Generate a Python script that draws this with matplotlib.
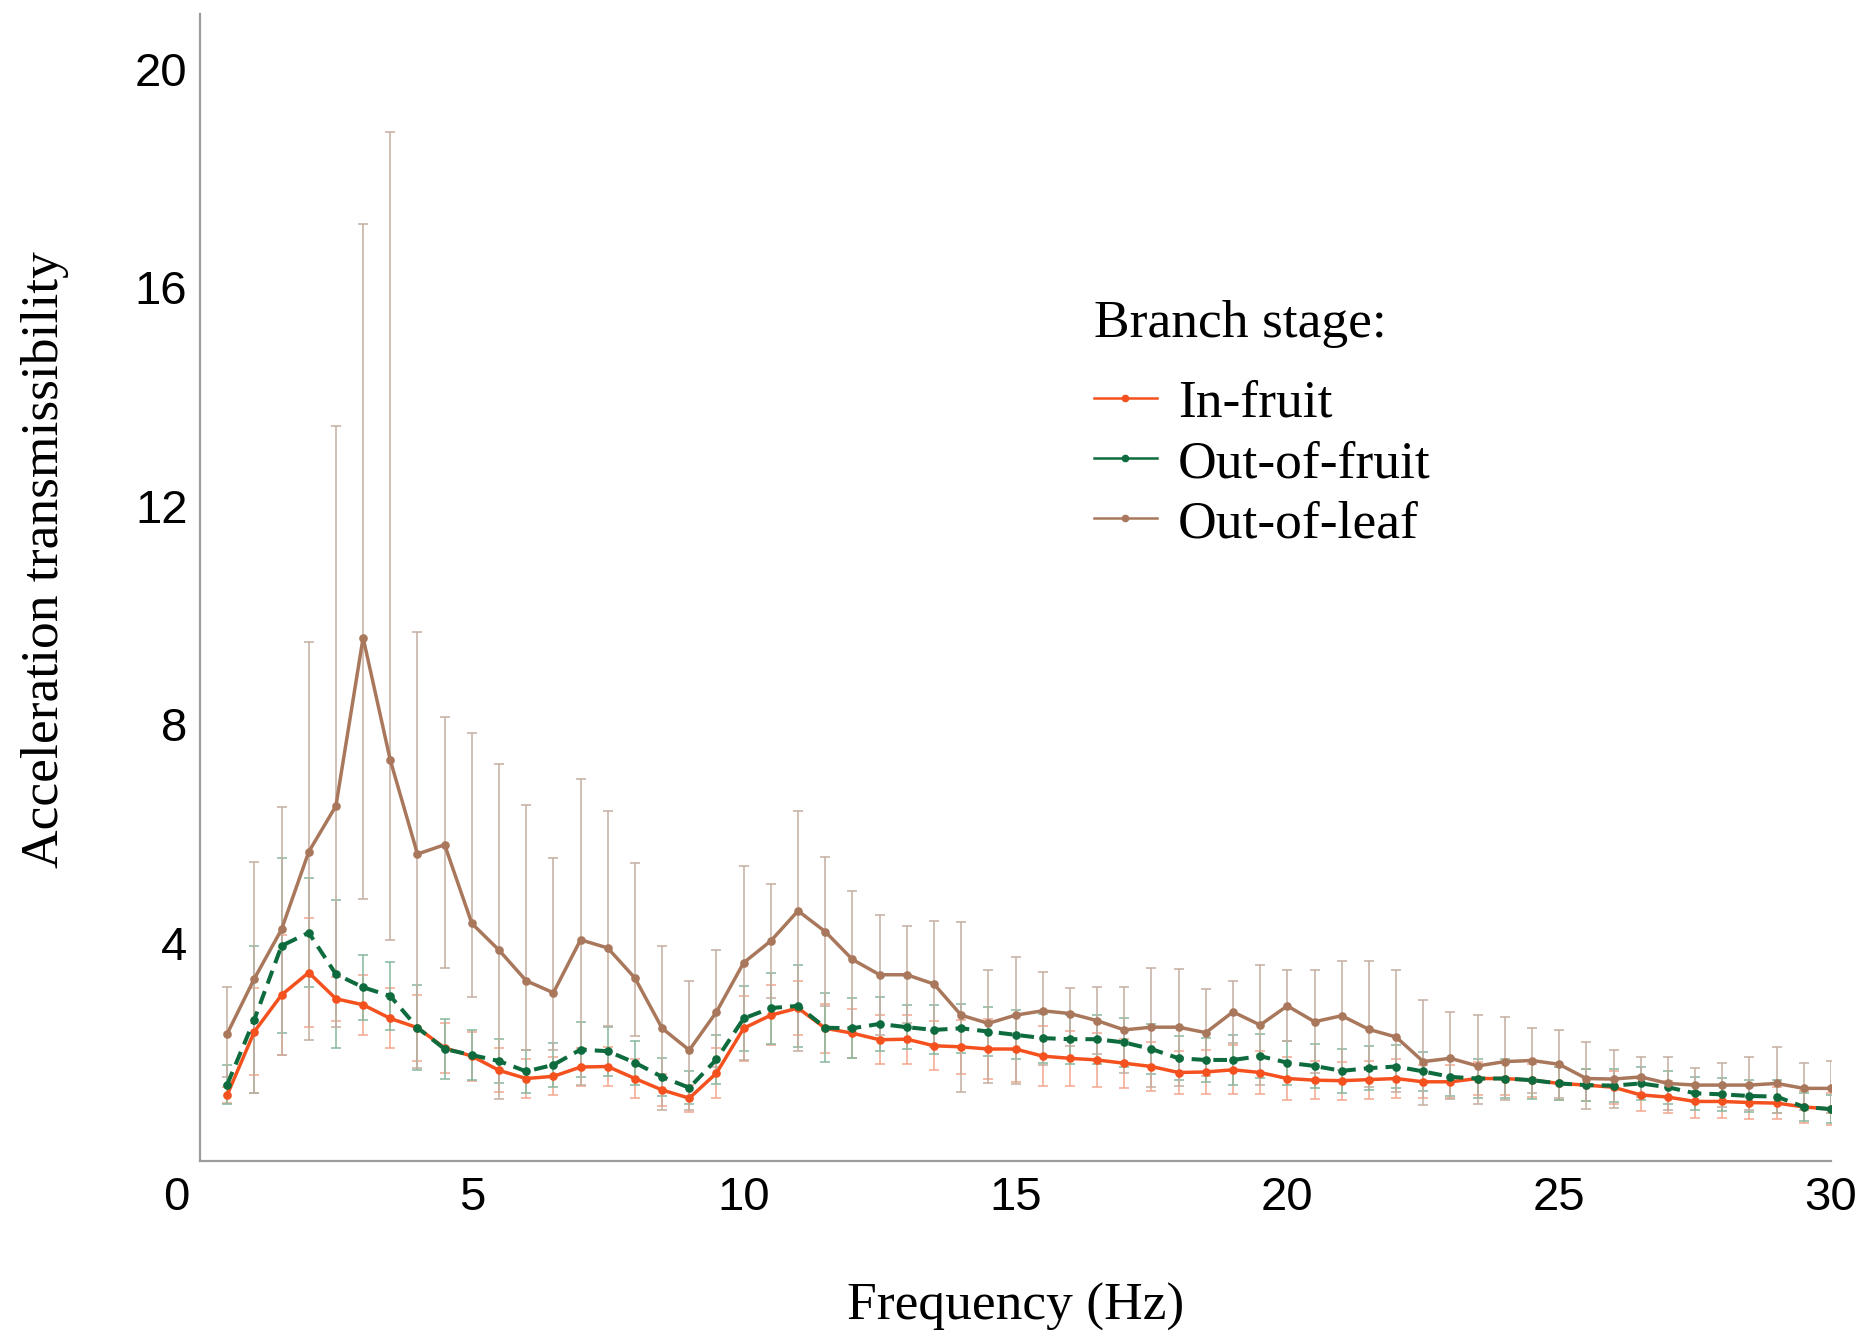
import matplotlib
matplotlib.use("Agg")
import matplotlib.pyplot as plt
from matplotlib.lines import Line2D
from matplotlib.transforms import ScaledTranslation
import numpy as np

# ---------------- data ----------------
freq = [0.5, 1.0, 1.5, 2.0, 2.5, 3.0, 3.5, 4.0, 4.5, 5.0,
        5.5, 6.0, 6.5, 7.0, 7.5, 8.0, 8.5, 9.0, 9.5, 10.0,
        10.5, 11.0, 11.5, 12.0, 12.5, 13.0, 13.5, 14.0, 14.5, 15.0,
        15.5, 16.0, 16.5, 17.0, 17.5, 18.0, 18.5, 19.0, 19.5, 20.0,
        20.5, 21.0, 21.5, 22.0, 22.5, 23.0, 23.5, 24.0, 24.5, 25.0,
        25.5, 26.0, 26.5, 27.0, 27.5, 28.0, 28.5, 29.0, 29.5, 30.0]

in_fruit = [1.21, 2.37, 3.04, 3.45, 2.97, 2.86, 2.61, 2.44, 2.07, 1.92,
            1.66, 1.51, 1.55, 1.72, 1.73, 1.51, 1.30, 1.15, 1.61, 2.43,
            2.67, 2.80, 2.43, 2.34, 2.22, 2.23, 2.11, 2.09, 2.05, 2.05,
            1.92, 1.88, 1.85, 1.79, 1.73, 1.62, 1.63, 1.67, 1.62, 1.51,
            1.48, 1.47, 1.49, 1.51, 1.45, 1.45, 1.51, 1.51, 1.48, 1.42,
            1.39, 1.35, 1.21, 1.17, 1.09, 1.09, 1.07, 1.06, 0.99, 0.95]
in_fruit_err = [0.15, 0.80, 1.10, 1.00, 0.40, 0.55, 0.55, 0.60, 0.45, 0.45,
                0.40, 0.35, 0.35, 0.35, 0.35, 0.35, 0.30, 0.25, 0.45, 0.60,
                0.55, 0.50, 0.45, 0.45, 0.45, 0.45, 0.45, 0.50, 0.55, 0.60,
                0.55, 0.50, 0.50, 0.45, 0.45, 0.40, 0.40, 0.45, 0.40, 0.40,
                0.35, 0.35, 0.35, 0.35, 0.30, 0.30, 0.30, 0.30, 0.30, 0.30,
                0.30, 0.30, 0.30, 0.30, 0.30, 0.30, 0.30, 0.30, 0.30, 0.30]

out_of_fruit = [1.40, 2.59, 3.94, 4.18, 3.42, 3.18, 3.02, 2.44, 2.05, 1.94,
                1.83, 1.64, 1.76, 2.04, 2.01, 1.80, 1.54, 1.34, 1.86, 2.61,
                2.80, 2.84, 2.44, 2.43, 2.51, 2.45, 2.40, 2.43, 2.37, 2.31,
                2.25, 2.23, 2.23, 2.17, 2.05, 1.88, 1.85, 1.85, 1.92, 1.80,
                1.74, 1.65, 1.70, 1.73, 1.64, 1.54, 1.51, 1.51, 1.48, 1.42,
                1.39, 1.38, 1.42, 1.35, 1.24, 1.22, 1.19, 1.18, 0.99, 0.95]
out_of_fruit_err = [0.36, 1.34, 1.60, 1.00, 1.36, 0.60, 0.63, 0.78, 0.55, 0.45,
                    0.40, 0.40, 0.40, 0.50, 0.45, 0.40, 0.35, 0.30, 0.45, 0.60,
                    0.65, 0.75, 0.63, 0.55, 0.50, 0.40, 0.45, 0.45, 0.45, 0.45,
                    0.45, 0.45, 0.45, 0.45, 0.45, 0.40, 0.40, 0.45, 0.40, 0.40,
                    0.40, 0.40, 0.40, 0.40, 0.35, 0.35, 0.35, 0.35, 0.35, 0.30,
                    0.30, 0.30, 0.30, 0.30, 0.30, 0.30, 0.30, 0.30, 0.25, 0.25]

out_of_leaf = [2.33, 3.34, 4.24, 5.66, 6.50, 9.58, 7.34, 5.62, 5.79, 4.35,
               3.86, 3.30, 3.08, 4.05, 3.90, 3.35, 2.43, 2.03, 2.73, 3.63,
               4.03, 4.58, 4.20, 3.69, 3.41, 3.41, 3.24, 2.67, 2.52, 2.67,
               2.75, 2.70, 2.57, 2.40, 2.45, 2.45, 2.35, 2.73, 2.49, 2.84,
               2.55, 2.66, 2.41, 2.27, 1.82, 1.88, 1.74, 1.82, 1.84, 1.77,
               1.51, 1.50, 1.54, 1.42, 1.39, 1.39, 1.39, 1.42, 1.33, 1.33]
out_of_leaf_err_up = [0.85, 2.13, 2.24, 3.85, 6.96, 7.57, 11.50, 4.07, 2.34, 3.48,
                      3.41, 3.22, 2.47, 2.95, 2.50, 2.10, 1.50, 1.27, 1.13, 1.78,
                      1.05, 1.83, 1.37, 1.25, 1.10, 0.89, 1.16, 1.71, 0.98, 1.07,
                      0.71, 0.46, 0.61, 0.78, 1.09, 1.07, 0.79, 0.57, 1.10, 0.65,
                      0.94, 1.00, 1.25, 1.22, 1.13, 0.85, 0.93, 0.81, 0.59, 0.62,
                      0.66, 0.53, 0.36, 0.48, 0.31, 0.40, 0.51, 0.67, 0.47, 0.50]
out_of_leaf_err_low = [0.80, 2.10, 2.30, 3.44, 4.04, 4.78, 3.29, 3.92, 2.26, 1.35,
                       2.73, 1.27, 1.05, 2.66, 1.43, 1.07, 1.50, 1.10, 1.00, 1.78,
                       1.05, 2.56, 1.37, 1.25, 1.10, 0.89, 1.16, 1.40, 1.09, 1.26,
                       1.00, 0.60, 0.61, 0.78, 1.09, 1.07, 0.79, 0.57, 1.10, 0.65,
                       0.94, 1.00, 1.05, 1.00, 0.80, 0.75, 0.70, 0.70, 0.59, 0.62,
                       0.55, 0.53, 0.36, 0.48, 0.31, 0.40, 0.45, 0.55, 0.40, 0.45]

labels = ["In-fruit", "Out-of-fruit", "Out-of-leaf"]
colors = ["#F4511E", "#0E6B3E", "#A9785C"]
ecolors = ["#F2A58E", "#86B89C", "#C4ADA0"]

xticks = [0, 5, 10, 15, 20, 25, 30]
yticks = [4, 8, 12, 16, 20]

# ---------------- figure ----------------
W, H = 1868, 1333
fig = plt.figure(figsize=(W / 100, H / 100), dpi=100)
ax = fig.add_axes([200 / W, 1 - 1161 / H, 1631 / W, 1147 / H])

sans = "Liberation Sans"
serif = "Liberation Serif"

series = [
    (in_fruit, [in_fruit_err, in_fruit_err]),
    (out_of_fruit, [out_of_fruit_err, out_of_fruit_err]),
    (out_of_leaf, [out_of_leaf_err_low, out_of_leaf_err_up]),
]

# error bars first (behind)
for (vals, err), ec in zip(series, ecolors):
    ax.errorbar(freq, vals, yerr=err, fmt="none", ecolor=ec,
                elinewidth=1.1, capsize=3.5, capthick=1.1, zorder=1)

styles = ["-", (0, (3.4, 2.0)), "-"]
widths = [2.5, 2.9, 2.5]
for (vals, _), c, ls, lw in zip(series, colors, styles, widths):
    ax.plot(freq, vals, color=c, linestyle=ls, linewidth=lw,
            marker="o", markersize=5.2, markerfacecolor=c,
            markeredgecolor=c, zorder=3)

ax.set_xlim(0, 30)
ax.set_ylim(0, 21)
ax.set_xticks(xticks)
ax.set_xticklabels([str(t) for t in xticks], fontfamily=sans, fontsize=34)
ax.set_yticks(yticks)
ax.set_yticklabels([str(t) for t in yticks], fontfamily=sans, fontsize=34)
ax.tick_params(axis="both", length=0)
ax.tick_params(axis="y", pad=9)
ax.tick_params(axis="x", pad=11)

# shift the "0" label slightly left as in the reference
lab0 = ax.get_xticklabels()[0]
lab0.set_transform(lab0.get_transform() + ScaledTranslation(-0.24, 0, fig.dpi_scale_trans))

for s in ["top", "right"]:
    ax.spines[s].set_visible(False)
for s in ["left", "bottom"]:
    ax.spines[s].set_color("#9c9c9c")
    ax.spines[s].set_linewidth(1.6)

ax.set_xlabel("Frequency (Hz)", fontfamily=serif, fontsize=38.5, va="center")
ax.xaxis.set_label_coords(0.5, -0.127)
ax.set_ylabel("Acceleration transmissibility", fontfamily=serif, fontsize=38.5,
              va="center")
ax.yaxis.set_label_coords(-0.095, 0.524)

handles = [Line2D([0], [0], color=c, linewidth=1.8, marker="o", markersize=4.5)
           for c in colors]
leg = ax.legend(handles, labels, title="Branch stage:", loc="upper left",
                bbox_to_anchor=(1094 / W, 1 - 300 / H),
                bbox_transform=fig.transFigure, frameon=False,
                prop={"family": serif, "size": 38.5},
                title_fontproperties={"family": serif, "size": 38.5},
                handlelength=1.17, handletextpad=0.4, labelspacing=0.22,
                borderpad=0, borderaxespad=0, alignment="left")
# extra gap between the title and the entries
leg._legend_box.sep = 22.6

fig.savefig("out.png", dpi=100)
